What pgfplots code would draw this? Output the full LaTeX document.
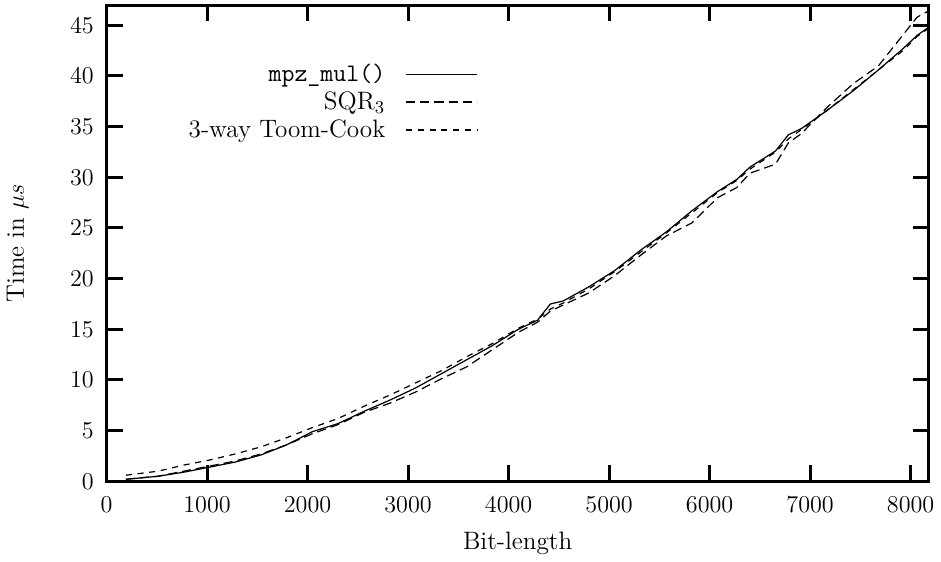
\documentclass[border=0pt]{standalone}
\usepackage{pgfplots}
\pgfplotsset{compat=1.18}
\pgfplotstableread{
x mul sqr toom
192 0.2 0.2 0.6
512 0.5 0.5 1.0
768 0.9 1.0 1.6
1024 1.4 1.5 2.1
1280 1.9 2.0 2.7
1536 2.6 2.7 3.4
1792 3.6 3.6 4.3
2048 4.9 4.7 5.3
2304 5.7 5.6 6.2
2560 6.9 6.8 7.4
2816 8.0 7.7 8.5
3072 9.2 8.8 9.7
3328 10.6 10.1 10.9
3584 12.0 11.3 12.3
3840 13.4 13.0 13.6
4096 15.0 14.7 15.1
4288 15.9 15.7 16.0
4416 17.5 16.8 17.0
4544 17.8 17.4 17.6
4800 19.2 18.6 19.0
5056 20.8 20.3 20.7
5312 22.8 22.3 22.6
5568 24.6 24.2 24.5
5824 26.7 25.5 26.5
6080 28.6 28.0 28.5
6272 29.8 29.0 29.7
6400 31.0 30.4 30.8
6656 32.6 31.3 32.5
6784 34.2 33.4 33.8
6912 34.8 34.3 34.7
7168 36.6 36.9 36.6
7424 38.5 39.2 38.6
7680 40.6 41.0 40.6
7936 42.8 44.2 42.6
8064 44.0 45.8 43.9
8192 44.9 46.5 44.8
}\datatable
\begin{document}
\begin{tikzpicture}
\begin{axis}[
  scale only axis,
  width=406.5bp, height=235.5bp,
  xmin=0, xmax=8180, ymin=0, ymax=47,
  xtick={0,1000,...,8000},
  ytick={0,5,...,45},
  scaled x ticks=false,
  /pgf/number format/1000 sep={},
  tick label style={font=\fontsize{13}{15}\selectfont},
  xticklabel style={anchor=center, yshift=-11.5bp},
  yticklabel style={anchor=east, xshift=-2.8bp},
  tick align=inside,
  major tick length=8bp,
  minor tick num=0,
  axis line style={line width=1.5bp},
  every tick/.style={black, line width=1.5bp},
  font=\fontsize{12.5}{15}\selectfont,
  xlabel={Bit-length},
  ylabel={Time in $\mu s$},
  every axis x label/.style={at={(rel axis cs:0.5,0)}, anchor=center, yshift=-30.5bp},
  every axis y label/.style={at={(rel axis cs:0,0.5)}, rotate=90, anchor=center, yshift=44bp},
  legend plot pos=right,
  legend cell align=right,
  legend style={draw=none, fill=none, at={(axis cs:3755,42.0)}, anchor=north east,
    row sep=-0.5bp, column sep=8bp, font=\fontsize{12.5}{15}\selectfont},
  legend image code/.code={\draw[#1] (0bp,0bp) -- (35bp,0bp);},
  after end axis/.code={\path (rel axis cs:0,1) ++(0bp,2.5bp);},
]
\addplot[black, line width=0.6bp, no marks] table[x=x, y=mul] {\datatable};
\addlegendentry{\texttt{mpz\_mul()}}
\addplot[black, line width=0.6bp, no marks, dash pattern=on 4.5bp off 2.5bp] table[x=x, y=sqr] {\datatable};
\addlegendentry{SQR$_3$}
\addplot[black, line width=0.6bp, no marks, dash pattern=on 3bp off 2.8bp] table[x=x, y=toom] {\datatable};
\addlegendentry{3-way Toom-Cook}
\end{axis}
\end{tikzpicture}
\end{document}
